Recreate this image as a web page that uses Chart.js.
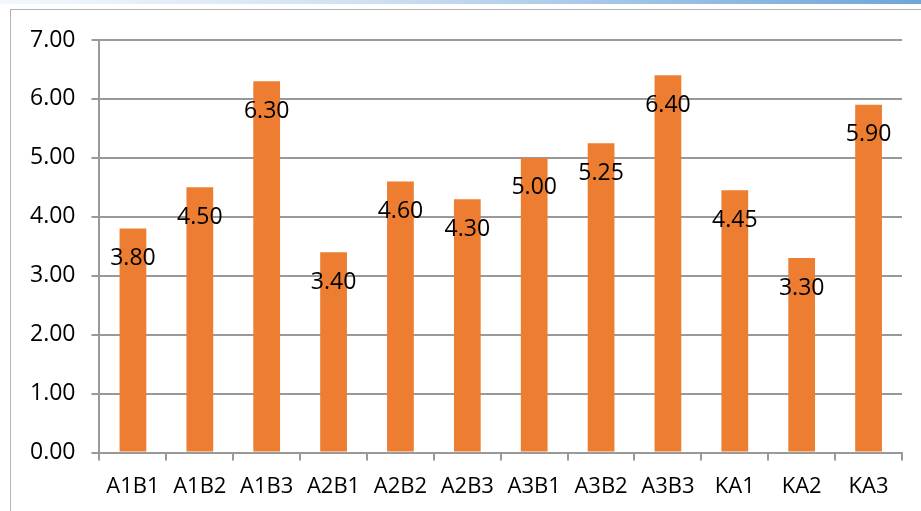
<!DOCTYPE html>
<html lang="en">
<head>
    <meta charset="UTF-8">
    <title>Bar Chart</title>
    <script src="https://cdn.jsdelivr.net/npm/chart.js"></script>
    <style>
        body {
            margin: 0;
            overflow: hidden;
            background-color: #ffffff;
            font-family: "Open Sans", Arial, sans-serif;
        }
        .strip {
            position: absolute;
            left: 0; top: 0;
            width: 921px; height: 4px;
            background: linear-gradient(to right, #f4f8fc, #cfe0f1 40%, #6fa5d9);
        }
        .frame {
            position: absolute;
            left: 10px; top: 9px;
            width: 911px; height: 502px;
            border-left: 1px solid #b4b4b4;
            border-top: 1px solid #b4b4b4;
        }
        .chart-box {
            position: absolute;
            left: 0; top: 0;
            width: 921px; height: 511px;
        }
    </style>
</head>
<body>
    <div class="strip"></div>
    <div class="frame"></div>
    <div class="chart-box"><canvas id="barChart"></canvas></div>

    <script>
        const categories = ['A1B1', 'A1B2', 'A1B3', 'A2B1', 'A2B2', 'A2B3', 'A3B1', 'A3B2', 'A3B3', 'KA1', 'KA2', 'KA3'];
        const values = [3.80, 4.50, 6.30, 3.40, 4.60, 4.30, 5.00, 5.25, 6.40, 4.45, 3.30, 5.90];

        // labels drawn a bit below the top of each bar
        const valueLabels = {
            id: 'valueLabels',
            afterDatasetsDraw(chart) {
                const ctx = chart.ctx;
                const meta = chart.getDatasetMeta(0);
                ctx.save();
                ctx.font = '23px "Open Sans", Arial, sans-serif';
                ctx.fillStyle = '#000000';
                ctx.textAlign = 'center';
                ctx.textBaseline = 'middle';
                meta.data.forEach((bar, i) => {
                    ctx.fillText(values[i].toFixed(2), bar.x, bar.y + 30);
                });
                ctx.restore();
            }
        };

        new Chart(document.getElementById('barChart'), {
            type: 'bar',
            data: {
                labels: categories,
                datasets: [{
                    data: values,
                    backgroundColor: '#ED7D31',
                    barPercentage: 0.4,
                    categoryPercentage: 1.0
                }]
            },
            options: {
                responsive: true,
                maintainAspectRatio: false,
                animation: false,
                layout: { padding: { left: 14, right: 19, top: 40, bottom: -2 } },
                plugins: {
                    legend: { display: false },
                    tooltip: { enabled: false }
                },
                scales: {
                    x: {
                        grid: {
                            offset: true,
                            drawOnChartArea: false,
                            drawTicks: true,
                            tickLength: 8,
                            color: '#999999',
                            lineWidth: 2
                        },
                        border: { color: '#999999', width: 2 },
                        ticks: {
                            color: '#000000',
                            padding: 13,
                            font: { family: '"Open Sans", Arial, sans-serif', size: 22 },
                            maxRotation: 0
                        }
                    },
                    y: {
                        min: 0,
                        max: 7,
                        grid: {
                            color: '#999999',
                            lineWidth: 2,
                            tickLength: 8
                        },
                        border: { color: '#999999', width: 2 },
                        ticks: {
                            stepSize: 1,
                            color: '#000000',
                            padding: 16,
                            font: { family: '"Open Sans", Arial, sans-serif', size: 23 },
                            callback: (v) => Number(v).toFixed(2)
                        }
                    }
                }
            },
            plugins: [valueLabels]
        });
    </script>
</body>
</html>
